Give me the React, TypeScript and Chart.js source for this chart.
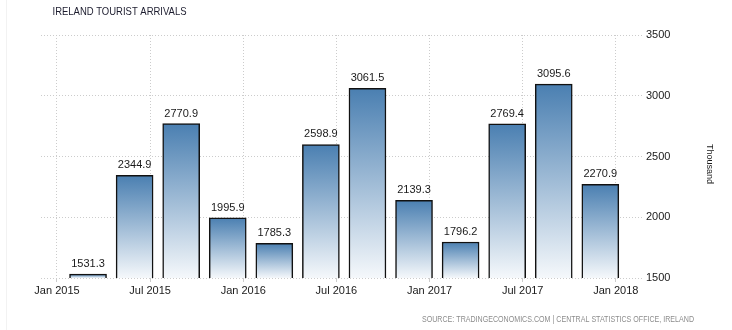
import React, { useEffect, useRef } from "react";
import { Chart, registerables } from "chart.js";

Chart.register(...registerables);

// Quarter months (bars) and their values, thousand arrivals
const quarters = ["2015-03", "2015-06", "2015-09", "2015-12", "2016-03", "2016-06", "2016-09", "2016-12", "2017-03", "2017-06", "2017-09", "2017-12"];
const arrivals = [1531.3, 2344.9, 2770.9, 1995.9, 1785.3, 2598.9, 3061.5, 2139.3, 1796.2, 2769.4, 3095.6, 2270.9];
const xTickLabels = ["Jan 2015", "Jul 2015", "Jan 2016", "Jul 2016", "Jan 2017", "Jul 2017", "Jan 2018"];
const yTicks = [1500, 2000, 2500, 3000, 3500];

const title = "IRELAND TOURIST ARRIVALS";
const unit = "Thousand";
const source = "SOURCE: TRADINGECONOMICS.COM | CENTRAL STATISTICS OFFICE, IRELAND";

const START_YEAR = 2015;
const monthOffset = (s: string) => {
  const [y, m] = s.split("-").map(Number);
  return (y - START_YEAR) * 12 + (m - 1);
};
const tickMonths = xTickLabels.map((_, i) => i * 6);

const FONT = "'Liberation Sans', Arial, sans-serif";

export default function App() {
  const ref = useRef<HTMLCanvasElement>(null);

  useEffect(() => {
    document.body.style.margin = "0";
    const canvas = ref.current!;
    const decor = {
      id: "decor",
      beforeDraw(chart: any) {
        const c = chart.ctx;
        c.save();
        c.fillStyle = "#ffffff";
        c.fillRect(0, 0, chart.width, chart.height);
        c.strokeStyle = "#f2f2f2";
        c.lineWidth = 1;
        c.beginPath();
        c.moveTo(6.5, 0);
        c.lineTo(6.5, chart.height);
        c.stroke();
        c.restore();
      },
      afterDatasetsDraw(chart: any) {
        const c = chart.ctx;
        const meta = chart.getDatasetMeta(0);
        c.save();
        c.font = `11px ${FONT}`;
        c.fillStyle = "#1a1a1a";
        c.textAlign = "center";
        c.textBaseline = "alphabetic";
        meta.data.forEach((el: any, i: number) => {
          c.fillText(arrivals[i].toFixed(1), el.x, el.y - 7);
        });
        c.restore();
      },
      afterDraw(chart: any) {
        const c = chart.ctx;
        c.save();
        c.font = `11px ${FONT}`;
        c.fillStyle = "#1c1c2e";
        c.textBaseline = "alphabetic";
        c.textAlign = "left";
        let w = c.measureText(title).width;
        c.translate(52.5, 15);
        c.scale(134 / w, 1);
        c.fillText(title, 0, 0);
        c.restore();

        c.save();
        c.font = `8.5px ${FONT}`;
        c.fillStyle = "#8c8c8c";
        c.textBaseline = "alphabetic";
        c.textAlign = "left";
        w = c.measureText(source).width;
        c.translate(422, 322);
        c.scale(272 / w, 1);
        c.fillText(source, 0, 0);
        c.restore();

        c.save();
        c.font = `9px ${FONT}`;
        c.fillStyle = "#1a1a1a";
        c.textAlign = "center";
        c.textBaseline = "middle";
        c.translate(709, 164);
        c.rotate(Math.PI / 2);
        c.fillText(unit, 0, 0);
        c.restore();
      },
    };

    const chart = new Chart(canvas, {
      type: "bar",
      data: {
        datasets: [
          {
            data: quarters.map((q, i) => ({ x: monthOffset(q), y: arrivals[i] })),
            barThickness: 37,
            borderColor: "#111111",
            borderWidth: 1.5,
            borderSkipped: false,
            backgroundColor: (ctx: any) => {
              const chart = ctx.chart;
              const y = chart.scales?.y;
              const raw = ctx.raw;
              if (!y || !raw) return "#6a9ac4";
              const top = y.getPixelForValue(raw.y);
              const bottom = y.getPixelForValue(yTicks[0]);
              if (!isFinite(top) || !isFinite(bottom) || bottom - top < 1) return "#8fb0cf";
              const g = chart.ctx.createLinearGradient(0, top, 0, bottom);
              g.addColorStop(0, "#4a7fb1");
              g.addColorStop(1, "#f5f8fb");
              return g;
            },
          },
        ],
      },
      options: {
        responsive: false,
        animation: false,
        events: [],
        layout: { padding: { left: 41, top: 35, right: 0, bottom: 0 } },
        plugins: { legend: { display: false }, tooltip: { enabled: false }, title: { display: false } },
        scales: {
          x: {
            type: "linear",
            offset: false,
            min: -1.03,
            max: 37.75,
            afterBuildTicks: (scale: any) => {
              scale.ticks = tickMonths.map((v) => ({ value: v }));
            },
            afterFit: (scale: any) => {
              scale.height = 52;
            },
            ticks: {
              autoSkip: false,
              maxRotation: 0,
              padding: 2,
              color: "#1a1a1a",
              font: { family: FONT, size: 11 },
              callback: (v: any) => {
                const idx = tickMonths.indexOf(Number(v));
                return idx >= 0 ? xTickLabels[idx] : "";
              },
            },
            grid: { offset: false, color: "#cccccc", lineWidth: 1, drawTicks: true, tickLength: 4, tickColor: "#cccccc" },
            border: { display: false, dash: [1, 2] },
          },
          y: {
            position: "right",
            min: yTicks[0],
            max: yTicks[yTicks.length - 1],
            afterBuildTicks: (scale: any) => {
              scale.ticks = yTicks.map((v) => ({ value: v }));
            },
            afterFit: (scale: any) => {
              scale.width = 89;
            },
            ticks: {
              padding: 3,
              color: "#1a1a1a",
              font: { family: FONT, size: 11 },
              callback: (v: any) => String(v),
            },
            grid: { color: "#cccccc", lineWidth: 1, drawTicks: false },
            border: { display: false, dash: [1, 2] },
          },
        },
      },
      plugins: [decor],
    } as any);

    return () => chart.destroy();
  }, []);

  return (
    <div style={{ position: "absolute", left: 0, top: 0, width: 732, height: 330 }}>
      <canvas ref={ref} width={732} height={330} style={{ display: "block" }} />
    </div>
  );
}
